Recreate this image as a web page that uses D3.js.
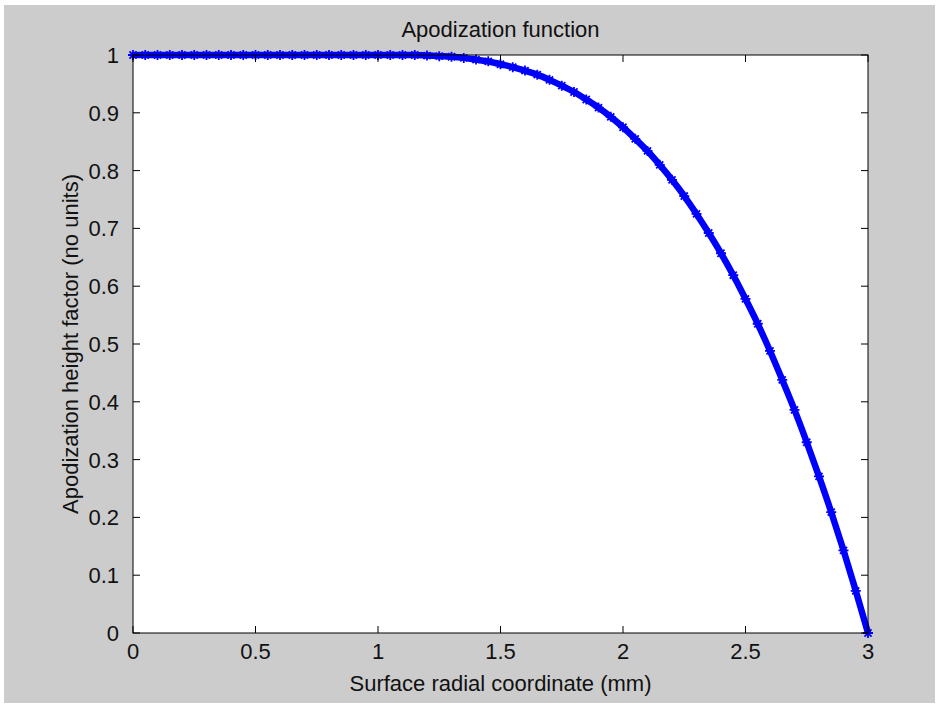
<!DOCTYPE html>
<html>
<head>
<meta charset="utf-8">
<script src="https://cdn.jsdelivr.net/npm/d3@7"></script>
<style>
  body { margin: 0; background: #ffffff; }
  .tick-label { font-family: "Liberation Sans", Arial, sans-serif; font-size: 22px; fill: #111; }
  .axis-line { stroke: #000; stroke-width: 1; fill: none; }
</style>
</head>
<body>
<div class="container"></div>
<script>
const FIG_W = 939;
const FIG_H = 707;
const LEFT = 133, RIGHT = 868, TOP = 55, BOTTOM = 633;
const TICK = 7;

// radial coordinate (mm) and apodization height factor
const radius = [
  0.00, 0.05, 0.10, 0.15, 0.20, 0.25, 0.30, 0.35, 0.40, 0.45,
  0.50, 0.55, 0.60, 0.65, 0.70, 0.75, 0.80, 0.85, 0.90, 0.95,
  1.00, 1.05, 1.10, 1.15, 1.20, 1.25, 1.30, 1.35, 1.40, 1.45,
  1.50, 1.55, 1.60, 1.65, 1.70, 1.75, 1.80, 1.85, 1.90, 1.95,
  2.00, 2.05, 2.10, 2.15, 2.20, 2.25, 2.30, 2.35, 2.40, 2.45,
  2.50, 2.55, 2.60, 2.65, 2.70, 2.75, 2.80, 2.85, 2.90, 2.95,
  3.00
];
const heightFactor = [
  1.000, 1.000, 1.000, 1.000, 1.000, 1.000, 1.000, 1.000, 1.000, 1.000,
  1.000, 1.000, 1.000, 1.000, 1.000, 1.000, 1.000, 1.000, 1.000, 1.000,
  1.000, 1.000, 1.000, 1.000, 0.999, 0.998, 0.997, 0.995, 0.992, 0.989,
  0.984, 0.979, 0.973, 0.966, 0.957, 0.947, 0.936, 0.923, 0.909, 0.893,
  0.875, 0.855, 0.834, 0.810, 0.784, 0.756, 0.725, 0.692, 0.657, 0.619,
  0.578, 0.535, 0.488, 0.438, 0.386, 0.330, 0.271, 0.209, 0.143, 0.073,
  0.000
];
const xTicks = [0, 0.5, 1, 1.5, 2, 2.5, 3];
const yTicks = [0, 0.1, 0.2, 0.3, 0.4, 0.5, 0.6, 0.7, 0.8, 0.9, 1];

const titleText = "Apodization function";
const xLabelText = "Surface radial coordinate (mm)";
const yLabelText = "Apodization height factor (no units)";

var asterisk = function(r){
  var d = r * 0.7071;
  return "M" + (-r) + ",0L" + r + ",0" +
         "M0," + (-r) + "L0," + r +
         "M" + (-d) + "," + (-d) + "L" + d + "," + d +
         "M" + (-d) + "," + d + "L" + d + "," + (-d);
}

var draw = function(){
  var svg = d3.select(".container").append("svg")
    .attr("width", FIG_W)
    .attr("height", FIG_H);

  // figure background
  svg.append("rect")
    .attr("x", 4).attr("y", 5)
    .attr("width", FIG_W - 8).attr("height", FIG_H - 9)
    .attr("fill", "#cccccc");

  var xScale = d3.scaleLinear().domain([0, 3]).range([LEFT, RIGHT]);
  var yScale = d3.scaleLinear().domain([0, 1]).range([BOTTOM, TOP]);

  // axes area
  svg.append("rect")
    .attr("x", LEFT).attr("y", TOP)
    .attr("width", RIGHT - LEFT).attr("height", BOTTOM - TOP)
    .attr("fill", "#ffffff");

  var data = radius.map(function(r, i){ return [r, heightFactor[i]]; });

  var plot = svg.append("g");
  var line = d3.line()
    .x(function(d){ return xScale(d[0]); })
    .y(function(d){ return yScale(d[1]); })
    .curve(d3.curveMonotoneX);

  plot.append("path")
    .datum(data)
    .attr("d", line)
    .attr("fill", "none")
    .attr("stroke", "#0000ff")
    .attr("stroke-width", 6.5)
    .attr("stroke-linejoin", "round");

  plot.selectAll(".marker")
    .data(data)
    .enter().append("path")
    .attr("class", "marker")
    .attr("transform", function(d){ return "translate(" + xScale(d[0]) + "," + yScale(d[1]) + ")"; })
    .attr("d", asterisk(5))
    .attr("stroke", "#0000ff")
    .attr("stroke-width", 1.8)
    .attr("fill", "none");

  // box and ticks (inside, on all four sides)
  var axes = svg.append("g");
  axes.append("rect")
    .attr("x", LEFT).attr("y", TOP)
    .attr("width", RIGHT - LEFT).attr("height", BOTTOM - TOP)
    .classed("axis-line", true);

  xTicks.forEach(function(t){
    var x = xScale(t);
    axes.append("line").attr("x1", x).attr("x2", x)
      .attr("y1", BOTTOM).attr("y2", BOTTOM - TICK).classed("axis-line", true);
    axes.append("line").attr("x1", x).attr("x2", x)
      .attr("y1", TOP).attr("y2", TOP + TICK).classed("axis-line", true);
    axes.append("text")
      .attr("x", x).attr("y", 659)
      .attr("text-anchor", "middle")
      .classed("tick-label", true)
      .text(t);
  });

  yTicks.forEach(function(t){
    var y = yScale(t);
    axes.append("line").attr("x1", LEFT).attr("x2", LEFT + TICK)
      .attr("y1", y).attr("y2", y).classed("axis-line", true);
    axes.append("line").attr("x1", RIGHT).attr("x2", RIGHT - TICK)
      .attr("y1", y).attr("y2", y).classed("axis-line", true);
    axes.append("text")
      .attr("x", 119).attr("y", y)
      .attr("dy", "0.36em")
      .attr("text-anchor", "end")
      .classed("tick-label", true)
      .text(t);
  });

  svg.append("text")
    .attr("x", (LEFT + RIGHT) / 2).attr("y", 37)
    .attr("text-anchor", "middle")
    .classed("tick-label", true)
    .text(titleText);

  svg.append("text")
    .attr("x", (LEFT + RIGHT) / 2).attr("y", 691)
    .attr("text-anchor", "middle")
    .classed("tick-label", true)
    .text(xLabelText);

  svg.append("text")
    .attr("transform", "translate(78," + ((TOP + BOTTOM) / 2) + ") rotate(-90)")
    .attr("text-anchor", "middle")
    .classed("tick-label", true)
    .text(yLabelText);
}

window.onload = draw;
</script>
</body>
</html>
